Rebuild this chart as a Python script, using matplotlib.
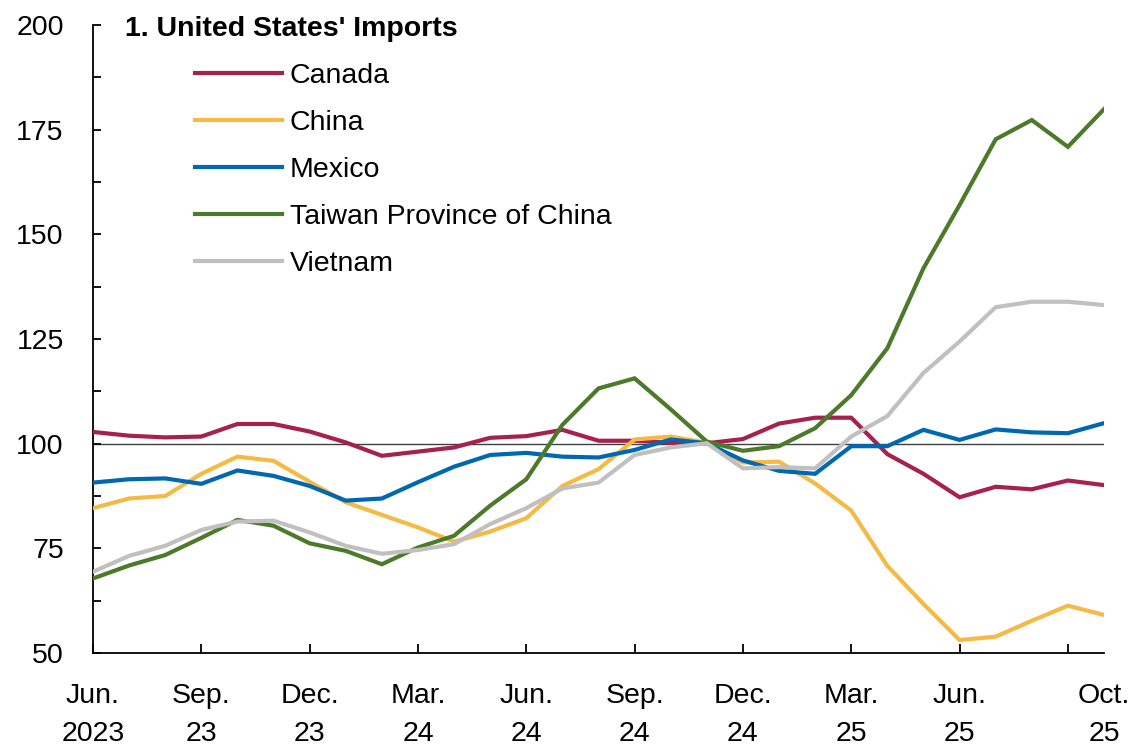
import matplotlib
matplotlib.use("Agg")
import matplotlib.pyplot as plt
from matplotlib import font_manager
from matplotlib.ticker import MultipleLocator, FixedLocator

# monthly index values, Jun 2023 .. Oct 2025
months = list(range(29))
canada = [102.8, 101.9, 101.5, 101.7, 104.7, 104.7, 102.9, 100.3, 97.1, 98.1,
          99.1, 101.4, 101.8, 103.3, 100.7, 100.7, 100.2, 100.1, 101.1, 104.8,
          106.2, 106.2, 97.5, 92.8, 87.2, 89.7, 89.1, 91.2, 90.1]
china = [84.6, 86.9, 87.5, 92.8, 96.9, 95.9, 90.9, 86.0, 83.0, 80.0,
         76.6, 79.0, 82.2, 89.9, 93.9, 101.0, 101.7, 100.2, 95.5, 95.7,
         90.5, 84.0, 70.8, 61.7, 53.1, 53.9, 57.7, 61.3, 59.1]
mexico = [90.7, 91.5, 91.7, 90.4, 93.6, 92.3, 89.9, 86.4, 86.9, 90.8,
          94.5, 97.3, 97.8, 96.9, 96.7, 98.5, 101.0, 100.1, 96.0, 93.5,
          92.8, 99.4, 99.4, 103.3, 100.9, 103.4, 102.7, 102.5, 104.9]
taiwan = [67.8, 70.9, 73.4, 77.5, 81.8, 80.4, 76.2, 74.4, 71.2, 75.2,
          78.0, 85.2, 91.5, 104.5, 113.2, 115.6, 108.2, 100.5, 98.3, 99.4,
          103.7, 111.6, 122.8, 141.9, 157.0, 172.7, 177.3, 170.9, 179.9]
vietnam = [69.4, 73.2, 75.6, 79.4, 81.4, 81.6, 78.8, 75.6, 73.7, 74.6,
           76.0, 80.8, 84.6, 89.3, 90.7, 97.3, 99.1, 100.1, 94.1, 94.4,
           94.1, 101.7, 106.6, 116.9, 124.4, 132.6, 133.9, 133.9, 133.1]

series = [
    ("Canada", canada, "#A6214E"),
    ("China", china, "#F5BA45"),
    ("Mexico", mexico, "#0067B1"),
    ("Taiwan Province of China", taiwan, "#4B7B2A"),
    ("Vietnam", vietnam, "#C0C0C0"),
]

tick_pos = [0, 3, 6, 9, 12, 15, 18, 21, 24, 27]
tick_labels = ["Jun.\n2023", "Sep.\n23", "Dec.\n23", "Mar.\n24", "Jun.\n24",
               "Sep.\n24", "Dec.\n24", "Mar.\n25", "Jun.\n25", ""]

names = {f.name for f in font_manager.fontManager.ttflist}
if "Liberation Sans Narrow" in names:
    family, fsize = "Liberation Sans Narrow", 25
else:
    family, fsize = "Liberation Sans", 20.5
plt.rcParams["font.family"] = [family, "DejaVu Sans"]

fig = plt.figure(figsize=(11.32, 7.51), dpi=100)
ax = fig.add_axes([93 / 1132, 98 / 751, 1011 / 1132, 628 / 751])

ax.axhline(100, color="#404040", lw=1.0, zorder=1)
for name, vals, color in series:
    ax.plot(months, vals, color=color, lw=3, label=name, zorder=3,
            solid_joinstyle="miter")

ax.set_xlim(0, 28)
ax.set_ylim(50, 200)
ax.yaxis.set_major_locator(MultipleLocator(25))
ax.yaxis.set_minor_locator(MultipleLocator(12.5))
ax.xaxis.set_major_locator(FixedLocator(tick_pos))
ax.set_xticklabels(tick_labels)
ax.xaxis.set_minor_locator(FixedLocator([28]))
ax.set_xticklabels(["Oct.\n25"], minor=True)

for s in ("top", "right"):
    ax.spines[s].set_visible(False)
for s in ("left", "bottom"):
    ax.spines[s].set_linewidth(1.3)

ax.tick_params(axis="y", which="both", direction="in", length=5.5, width=1.3,
               labelsize=fsize, pad=21)
ax.tick_params(axis="x", which="major", direction="in", length=6.5, width=1.3,
               labelsize=fsize, pad=21.5)
ax.tick_params(axis="x", which="minor", length=0, labelsize=fsize, pad=21.5)
for lbl in ax.get_xticklabels(which="both"):
    lbl.set_linespacing(1.6)

fig.text(125 / 1132, 1 - 36 / 751, "1. United States' Imports",
         fontsize=fsize, fontweight="bold", va="baseline", ha="left")

ax.legend(loc="upper left", bbox_to_anchor=(0.101, 0.94), frameon=False,
          fontsize=fsize, handlelength=3.05, handletextpad=0.28,
          labelspacing=0.74, borderpad=0, borderaxespad=0)

fig.savefig("out.png", dpi=100)
